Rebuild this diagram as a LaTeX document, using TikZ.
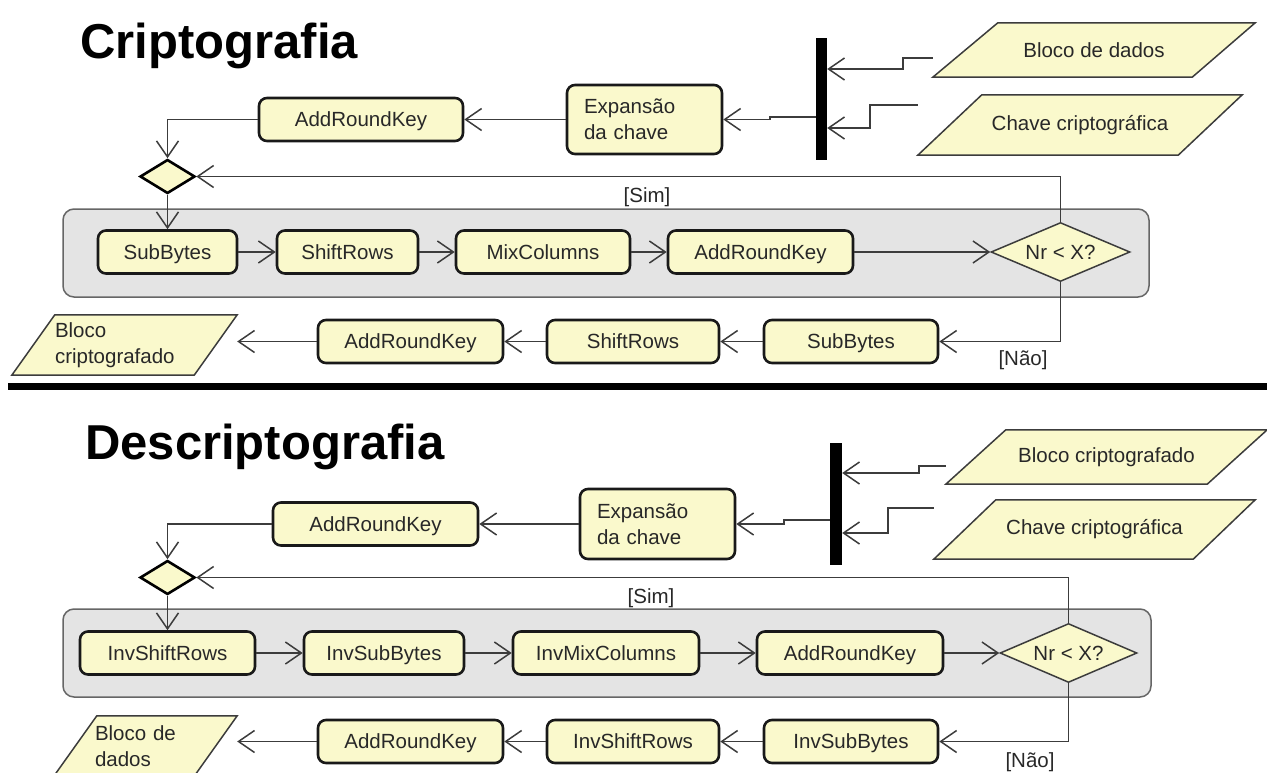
\documentclass[tikz,border=0pt]{standalone}
\usepackage{fontspec}
\setmainfont{Liberation Sans}
\usetikzlibrary{arrows.meta,shapes.geometric,backgrounds}
\definecolor{boxfill}{RGB}{250,249,204}
\definecolor{contfill}{RGB}{228,228,228}
\definecolor{linec}{RGB}{60,60,60}
\definecolor{txtc}{RGB}{40,40,40}
\begin{document}
\begin{tikzpicture}[x=1pt,y=-1pt,
  every node/.style={font=\fontsize{20.5}{26}\selectfont, text=txtc, inner sep=0pt},
  actbase/.style={draw=black!90, line width=2.6pt, fill=boxfill, rounded corners=8pt, minimum height=43pt},
  act/.style={actbase, text height=16pt, text depth=2pt},
  bar/.style={fill=black, draw=none},
  cont/.style={draw=black!60, line width=1.5pt, fill=contfill, rounded corners=11pt},
  dec/.style={diamond, shape aspect=2.4, draw=linec, line width=1.5pt, fill=boxfill, text height=16pt, text depth=2pt},
  merge/.style={diamond, draw=black, line width=2.6pt, fill=boxfill},
  parabox/.style={draw=none},
  para/.style={draw=linec, line width=1.5pt, fill=boxfill},
  conn/.style={draw=linec, line width=1.5pt, -{Straight Barb[length=16pt,width=22pt]}},
  title/.style={font=\fontsize{49}{55}\selectfont\bfseries, text=black, anchor=base west},
  sep/.style={draw=black, line width=7pt}
]
\useasboundingbox (0,0) rectangle (1267,772);

% ================= Criptografia =================
\node[title] (t1) at (80,58) {Criptografia};
\node[bar, minimum width=11pt, minimum height=122pt] (bar1) at (821.5,99) {};
\node[parabox, minimum width=322pt, minimum height=54pt] (bd1) at (1094,50) {Bloco de dados};
\node[parabox, minimum width=324pt, minimum height=60pt] (ck1) at (1080,125) {Chave criptográfica};
\node[actbase, minimum width=155pt, minimum height=69pt, text width=121pt, align=left, inner xsep=17pt] (exp1) at (644.5,119.5) {Expansão\\da chave};
\node[act, minimum width=204pt] (ark1) at (361,119.5) {AddRoundKey};
\node[merge, minimum width=55pt, minimum height=34pt] (dm1) at (167.5,176.5) {};
\node[cont, minimum width=1086pt, minimum height=88pt] (c1) at (606,253) {};
\node[act, minimum width=139pt] (sb1) at (167.5,252) {SubBytes};
\node[act, minimum width=141pt] (sr1) at (347.5,252) {ShiftRows};
\node[act, minimum width=174pt] (mc1) at (543,252) {MixColumns};
\node[act, minimum width=185pt] (ark2) at (760.5,252) {AddRoundKey};
\node[dec, minimum width=139pt, minimum height=59pt] (nr1) at (1060.5,252) {Nr < X?};
\node[act, minimum width=174pt] (sb2) at (851,341.5) {SubBytes};
\node[act, minimum width=172pt] (sr2) at (633,341.5) {ShiftRows};
\node[act, minimum width=185pt] (ark3) at (410.5,341.5) {AddRoundKey};
\node[parabox, minimum width=225pt, minimum height=60pt, text width=139pt, align=left, inner xsep=43pt] (bc1) at (124.5,345) {Bloco\\criptografado};
\node (sim1) at (647,197) {[Sim]};
\node (nao1) at (1023,360) {[Não]};

\begin{scope}[on background layer]
\draw[para] ([xshift=65pt]bd1.north west) -- (bd1.north east) -- ([xshift=-63pt]bd1.south east) -- (bd1.south west) -- cycle;
\draw[para] ([xshift=64pt]ck1.north west) -- (ck1.north east) -- ([xshift=-64pt]ck1.south east) -- (ck1.south west) -- cycle;
\draw[para] ([xshift=43pt]bc1.north west) -- (bc1.north east) -- ([xshift=-43pt]bc1.south east) -- (bc1.south west) -- cycle;
\end{scope}

\draw[conn] (bd1.west |- 0,58) -- (903,58) -- (903,69) -- (bar1.east |- 0,69);
\draw[conn] (ck1.west |- 0,105) -- (870,105) -- (870,128) -- (bar1.east |- 0,128);
\draw[conn] (bar1.west |- 0,117) -- (770,117) -- (770,119.5) -- (exp1.east);
\draw[conn] (exp1.west) -- (ark1.east);
\draw[conn] (ark1.west) -| (dm1.north);
\draw[conn] (nr1.north) |- (dm1.east);
\draw[conn] (dm1.south) -- (sb1.north);
\draw[conn] (sb1.east) -- (sr1.west);
\draw[conn] (sr1.east) -- (mc1.west);
\draw[conn] (mc1.east) -- (ark2.west);
\draw[conn] (ark2.east) -- (nr1.west);
\draw[conn] (nr1.south) |- (sb2.east);
\draw[conn] (sb2.west) -- (sr2.east);
\draw[conn] (sr2.west) -- (ark3.east);
\draw[conn] (ark3.west) -- (bc1.east |- ark3.west);

\draw[sep] (8,386.5) -- (1267,386.5);

% ================= Descriptografia =================
\node[title] (t2) at (85,459) {Descriptografia};
\node[bar, minimum width=12pt, minimum height=122pt] (bar2) at (836,504) {};
\node[parabox, minimum width=321pt, minimum height=54pt] (bd2) at (1106.5,457) {Bloco criptografado};
\node[parabox, minimum width=321pt, minimum height=59pt] (ck2) at (1094.5,529.5) {Chave criptográfica};
\node[actbase, minimum width=155pt, minimum height=70pt, text width=121pt, align=left, inner xsep=17pt] (exp2) at (657.5,524) {Expansão\\da chave};
\node[act, minimum width=205pt] (ark4) at (375.5,524) {AddRoundKey};
\node[merge, minimum width=55pt, minimum height=34pt] (dm2) at (167.5,577.5) {};
\node[cont, minimum width=1088pt, minimum height=88pt] (c2) at (607,653) {};
\node[act, minimum width=175pt] (isr1) at (167.5,653) {InvShiftRows};
\node[act, minimum width=160pt] (isb1) at (384,653) {InvSubBytes};
\node[act, minimum width=186pt] (imc1) at (606,653) {InvMixColumns};
\node[act, minimum width=186pt] (ark5) at (850,653) {AddRoundKey};
\node[dec, minimum width=137pt, minimum height=59pt] (nr2) at (1068.5,653) {Nr < X?};
\node[act, minimum width=174pt] (isb2) at (851,741.5) {InvSubBytes};
\node[act, minimum width=172pt] (isr2) at (633,741.5) {InvShiftRows};
\node[act, minimum width=185pt] (ark6) at (410.5,741.5) {AddRoundKey};
\node[parabox, minimum width=183pt, minimum height=60pt, text width=101pt, align=left, inner xsep=41pt] (bdd2) at (145.5,746) {Bloco de\\dados};
\node (sim2) at (651,598) {[Sim]};
\node (nao2) at (1030,762) {[Não]};

\begin{scope}[on background layer]
\draw[para] ([xshift=60pt]bd2.north west) -- (bd2.north east) -- ([xshift=-60pt]bd2.south east) -- (bd2.south west) -- cycle;
\draw[para] ([xshift=62pt]ck2.north west) -- (ck2.north east) -- ([xshift=-62pt]ck2.south east) -- (ck2.south west) -- cycle;
\draw[para] ([xshift=43pt]bdd2.north west) -- (bdd2.north east) -- ([xshift=-43pt]bdd2.south east) -- (bdd2.south west) -- cycle;
\end{scope}

\draw[conn] (bd2.west |- 0,466) -- (919,466) -- (919,473) -- (bar2.east |- 0,473);
\draw[conn] (ck2.west |- 0,508) -- (888,508) -- (888,533) -- (bar2.east |- 0,533);
\draw[conn] (bar2.west |- 0,520) -- (784,520) -- (784,524) -- (exp2.east);
\draw[conn] (exp2.west) -- (ark4.east);
\draw[conn] (ark4.west) -| (dm2.north);
\draw[conn] (nr2.north) |- (dm2.east);
\draw[conn] (dm2.south) -- (isr1.north);
\draw[conn] (isr1.east) -- (isb1.west);
\draw[conn] (isb1.east) -- (imc1.west);
\draw[conn] (imc1.east) -- (ark5.west);
\draw[conn] (ark5.east) -- (nr2.west);
\draw[conn] (nr2.south) |- (isb2.east);
\draw[conn] (isb2.west) -- (isr2.east);
\draw[conn] (isr2.west) -- (ark6.east);
\draw[conn] (ark6.west) -- (bdd2.east |- ark6.west);
\end{tikzpicture}
\end{document}
